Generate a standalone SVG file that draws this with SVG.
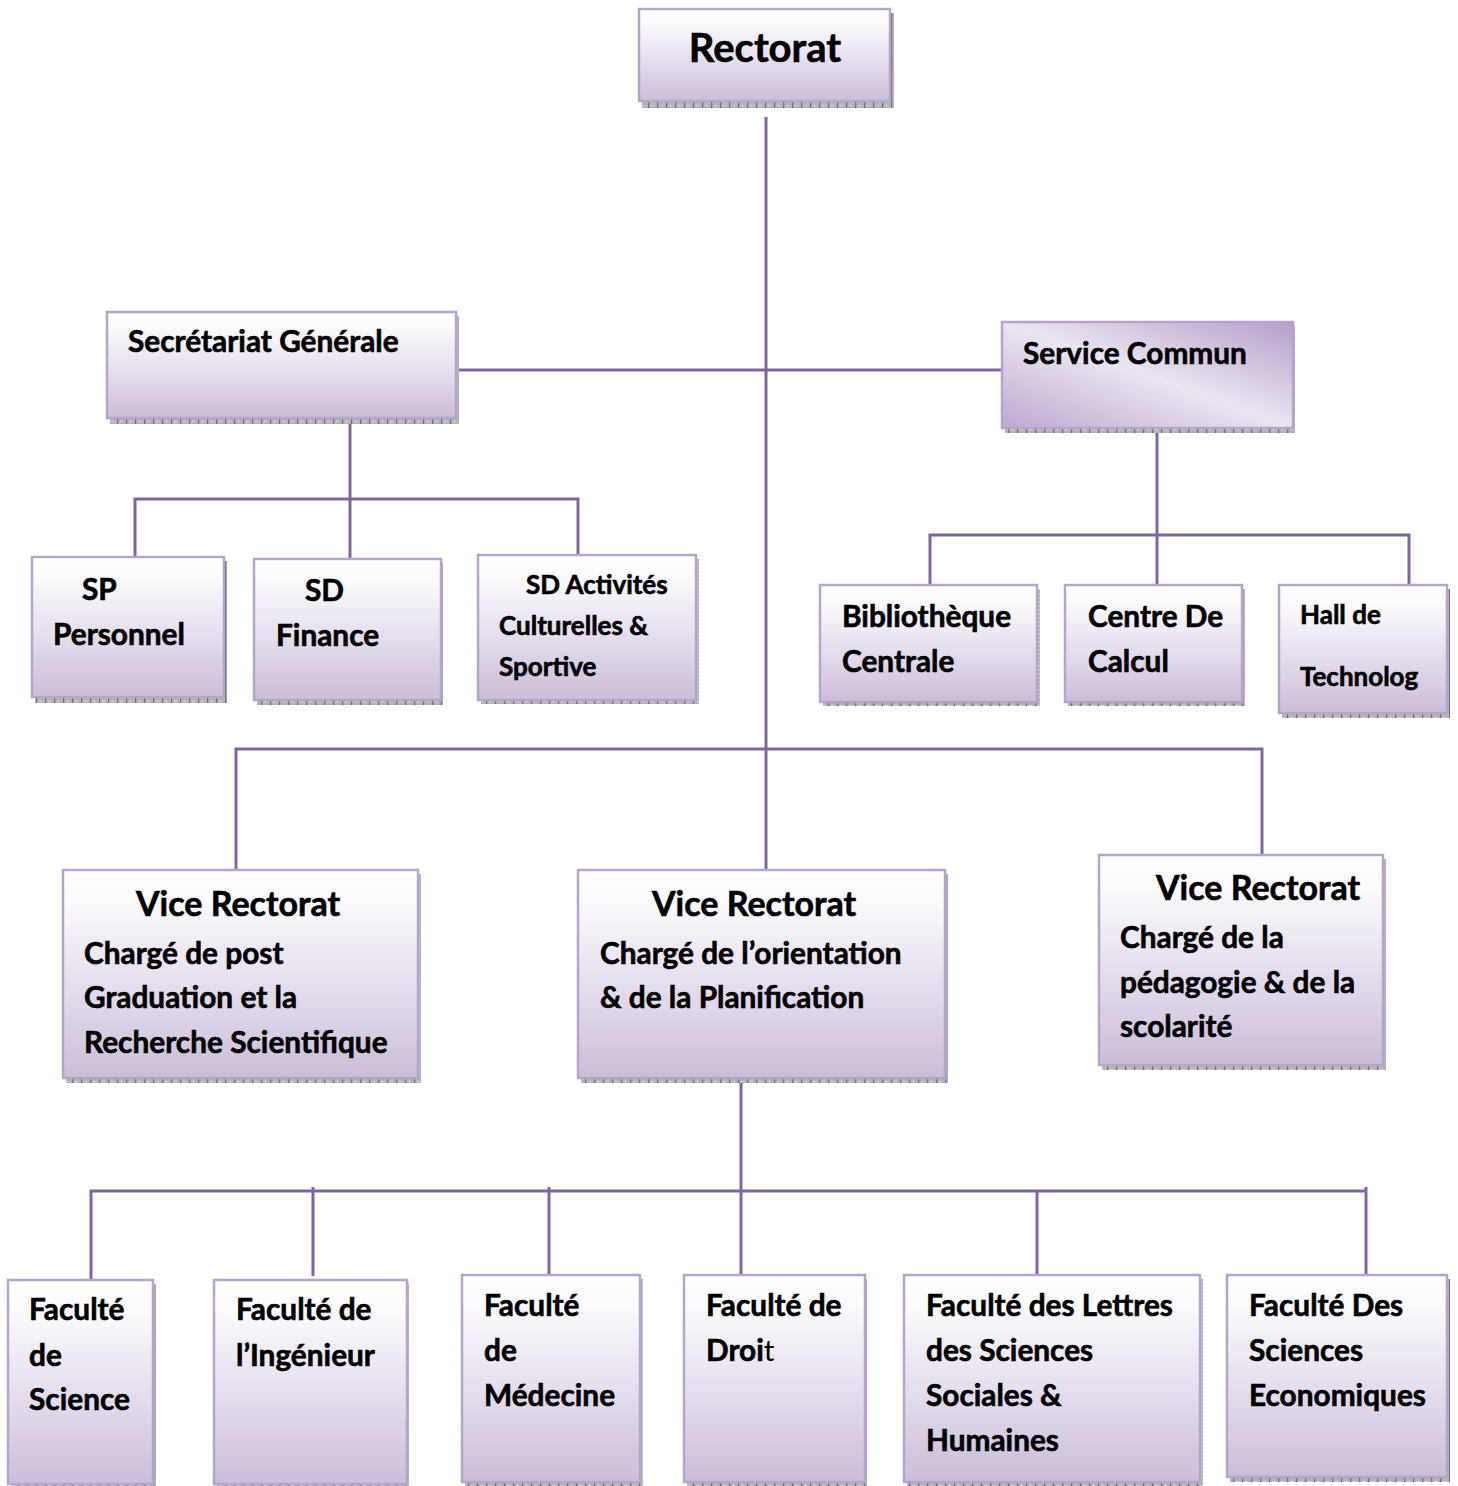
<svg xmlns="http://www.w3.org/2000/svg" width="1458" height="1486" viewBox="0 0 1458 1486">
  <defs>
    <linearGradient id="boxFill" x1="0" y1="0" x2="0" y2="1">
      <stop offset="0" stop-color="#ffffff"/>
      <stop offset="0.15" stop-color="#fbfafc"/>
      <stop offset="0.6" stop-color="#e3dbeb"/>
      <stop offset="1" stop-color="#cbbdd9"/>
    </linearGradient>
    <linearGradient id="diagFill" x1="1" y1="0" x2="0" y2="1">
      <stop offset="0" stop-color="#b49fca"/>
      <stop offset="0.5" stop-color="#ebe5f1"/>
      <stop offset="1" stop-color="#bda9d0"/>
    </linearGradient>
    <pattern id="shadowTex" width="9" height="4" patternUnits="userSpaceOnUse">
      <rect width="9" height="4" fill="#b4b4b4"/>
      <rect x="0" y="0" width="1.2" height="4" fill="#707070"/>
      <rect x="3" y="1" width="3" height="1" fill="#d6d6d6"/>
    </pattern>
  </defs>
  <style>
    .shadow { fill: url(#shadowTex); }
    .box { fill: url(#boxFill); stroke: #b6a4ce; stroke-width: 2.5; }
    .box.diag { fill: url(#diagFill); }
    text { font-family: Lato, "Open Sans", "Liberation Sans", sans-serif; font-weight: 700; fill: #000; stroke: #000; stroke-width: 0.6; }
    .t { font-size: 29.8px; }
    .ts { font-size: 26px; }
    .th { font-size: 34px; }
    .tr { font-size: 40px; }
    .reg { font-weight: 400; stroke-width: 0; }
    .link { fill: none; stroke: #8064a2; stroke-width: 3; }
  </style>

  <rect width="1458" height="1486" fill="#ffffff"/>

  <!-- connectors -->
  <g id="connectors">
    <path class="link" d="M766 117 V870"/>
    <path class="link" d="M457 370 H1002"/>
    <!-- Secrétariat Générale branch -->
    <path class="link" d="M350 419 V559"/>
    <path class="link" d="M135 557 V499 H578 V555"/>
    <!-- Service Commun branch -->
    <path class="link" d="M1157 433 V585"/>
    <path class="link" d="M930 585 V535 H1409 V585"/>
    <!-- Vice rectorats -->
    <path class="link" d="M236 870 V749 H1262 V855"/>
    <!-- Facultés -->
    <path class="link" d="M741 1082 V1275"/>
    <path class="link" d="M91 1280 V1191 H1366"/>
    <path class="link" d="M1366 1187 V1275"/>
    <path class="link" d="M313 1187 V1276"/>
    <path class="link" d="M549 1187 V1275"/>
    <path class="link" d="M1037 1191 V1278"/>
  </g>

  <g id="rectorat">
    <rect class="shadow" x="642" y="13" width="252" height="95"/>
    <rect class="box" x="639" y="9" width="251" height="92"/>
    <text class="tr" x="765" y="62" text-anchor="middle">Rectorat</text>
  </g>

  <g id="secretariat-generale">
    <rect class="shadow" x="110" y="316" width="349" height="108"/>
    <rect class="box" x="107" y="312" width="349" height="106"/>
    <text class="t" x="128" y="352">Secrétariat Générale</text>
  </g>

  <g id="service-commun">
    <rect class="shadow" x="1005" y="326" width="290" height="107"/>
    <rect class="box diag" x="1002" y="322" width="291" height="106"/>
    <text class="t" x="1023" y="364">Service Commun</text>
  </g>

  <g id="sp-personnel">
    <rect class="shadow" x="35" y="561" width="192" height="142"/>
    <rect class="box" x="32" y="557" width="192" height="140"/>
    <text class="t" x="82" y="600">SP</text>
    <text class="t" x="53" y="645">Personnel</text>
  </g>

  <g id="sd-finance">
    <rect class="shadow" x="257" y="563" width="186" height="142"/>
    <rect class="box" x="254" y="559" width="187" height="141"/>
    <text class="t" x="305" y="601">SD</text>
    <text class="t" x="276" y="646">Finance</text>
  </g>

  <g id="sd-activites">
    <rect class="shadow" x="481" y="559" width="218" height="145"/>
    <rect class="box" x="478" y="555" width="218" height="145"/>
    <text class="ts" x="526" y="594">SD Activités</text>
    <text class="ts" x="499" y="635">Culturelles &amp;</text>
    <text class="ts" x="499" y="676">Sportive</text>
  </g>

  <g id="bibliotheque">
    <rect class="shadow" x="823" y="589" width="217" height="117"/>
    <rect class="box" x="820" y="585" width="217" height="117"/>
    <text class="t" x="842" y="627">Bibliothèque</text>
    <text class="t" x="842" y="672">Centrale</text>
  </g>

  <g id="centre-de-calcul">
    <rect class="shadow" x="1068" y="589" width="177" height="117"/>
    <rect class="box" x="1065" y="585" width="177" height="117"/>
    <text class="t" x="1088" y="627">Centre De</text>
    <text class="t" x="1088" y="672">Calcul</text>
  </g>

  <g id="hall-de-technologie">
    <rect class="shadow" x="1282" y="589" width="168" height="129"/>
    <rect class="box" x="1279" y="585" width="168" height="128"/>
    <text class="ts" x="1300" y="624">Hall de</text>
    <text class="ts" x="1300" y="686">Technolog</text>
  </g>

  <g id="vice-rectorat-post-graduation">
    <rect class="shadow" x="66" y="874" width="355" height="209"/>
    <rect class="box" x="63" y="870" width="355" height="208"/>
    <text class="th" x="238" y="916" text-anchor="middle">Vice Rectorat</text>
    <text class="t" x="84" y="964">Chargé de post</text>
    <text class="t" x="84" y="1008">Graduation et la</text>
    <text class="t" x="84" y="1053">Recherche Scientifique</text>
  </g>

  <g id="vice-rectorat-orientation">
    <rect class="shadow" x="581" y="874" width="367" height="209"/>
    <rect class="box" x="578" y="870" width="367" height="208"/>
    <text class="th" x="754" y="916" text-anchor="middle">Vice Rectorat</text>
    <text class="t" x="600" y="964">Chargé de l’orientation</text>
    <text class="t" x="600" y="1008">&amp; de la Planification</text>
  </g>

  <g id="vice-rectorat-pedagogie">
    <rect class="shadow" x="1102" y="859" width="284" height="211"/>
    <rect class="box" x="1099" y="855" width="284" height="210"/>
    <text class="th" x="1258" y="900" text-anchor="middle">Vice Rectorat</text>
    <text class="t" x="1120" y="948">Chargé de la</text>
    <text class="t" x="1120" y="993">pédagogie &amp; de la</text>
    <text class="t" x="1120" y="1037">scolarité</text>
  </g>

  <g id="faculte-science">
    <rect class="shadow" x="11" y="1284" width="145" height="204"/>
    <rect class="box" x="8" y="1280" width="145" height="204"/>
    <text class="t" x="29" y="1320">Faculté</text>
    <text class="t" x="29" y="1366">de</text>
    <text class="t" x="29" y="1410">Science</text>
  </g>

  <g id="faculte-ingenieur">
    <rect class="shadow" x="217" y="1284" width="192" height="204"/>
    <rect class="box" x="214" y="1280" width="193" height="204"/>
    <text class="t" x="236" y="1320">Faculté de</text>
    <text class="t" x="236" y="1366">l’Ingénieur</text>
  </g>

  <g id="faculte-medecine">
    <rect class="shadow" x="465" y="1279" width="178" height="207"/>
    <rect class="box" x="462" y="1275" width="178" height="207"/>
    <text class="t" x="484" y="1316">Faculté</text>
    <text class="t" x="484" y="1361">de</text>
    <text class="t" x="484" y="1406">Médecine</text>
  </g>

  <g id="faculte-droit">
    <rect class="shadow" x="687" y="1279" width="180" height="207"/>
    <rect class="box" x="684" y="1275" width="181" height="207"/>
    <text class="t" x="706" y="1316">Faculté de</text>
    <text class="t" x="706" y="1361">Droi<tspan class="reg">t</tspan></text>
  </g>

  <g id="faculte-lettres">
    <rect class="shadow" x="907" y="1279" width="296" height="207"/>
    <rect class="box" x="904" y="1275" width="296" height="207"/>
    <text class="t" x="926" y="1316">Faculté des Lettres</text>
    <text class="t" x="926" y="1361">des Sciences</text>
    <text class="t" x="926" y="1406">Sociales &amp;</text>
    <text class="t" x="926" y="1451">Humaines</text>
  </g>

  <g id="faculte-economiques">
    <rect class="shadow" x="1230" y="1279" width="220" height="203"/>
    <rect class="box" x="1227" y="1275" width="220" height="202"/>
    <text class="t" x="1249" y="1316">Faculté Des</text>
    <text class="t" x="1249" y="1361">Sciences</text>
    <text class="t" x="1249" y="1406">Economiques</text>
  </g>
</svg>
